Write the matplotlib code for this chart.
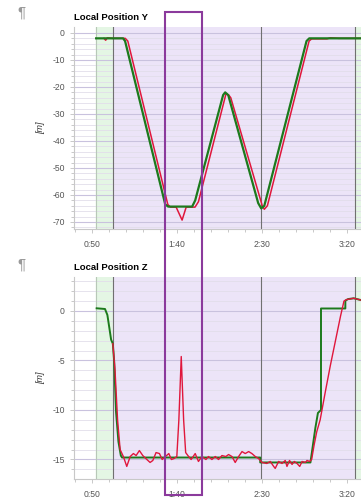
import numpy as np
import matplotlib
matplotlib.use('Agg')
import matplotlib.pyplot as plt
from matplotlib.patches import Rectangle

# time in seconds, values in metres
y_est_t = [52.4, 68.2, 69.4, 93.0, 94.7, 108.8, 110.6, 127.0, 128.2, 130.0,
           147.6, 149.4, 151.2, 176.0, 177.6, 208.0]
y_est_v = [-2.0, -2.0, -3.0, -63.5, -64.3, -64.3, -62.0, -23.0, -22.0, -23.0,
           -63.0, -65.0, -64.0, -3.0, -2.0, -2.0]

y_sp_t = [57.0, 58.0, 59.0, 62.0, 69.5, 71.0, 94.5, 96.0, 99.4, 102.9, 105.3,
          110.5, 112.5, 128.7, 130.3, 131.5, 150.0, 151.2, 153.0, 177.5, 179.0,
          188.0, 190.0, 195.0, 208.0]
y_sp_v = [-2.0, -2.7, -1.8, -2.0, -2.0, -3.0, -63.5, -64.5, -64.5, -69.3, -64.5,
          -64.5, -62.5, -22.5, -23.0, -24.0, -64.0, -65.3, -64.0, -3.0, -2.2,
          -2.2, -1.8, -2.0, -2.0]

z_est_t = [52.7, 57.6, 59.0, 60.2, 61.2, 62.2, 63.0, 64.1, 65.5, 66.9, 67.6,
           148.8, 148.8, 178.3, 181.2, 182.7, 184.5, 184.5, 198.8, 198.8, 200.4,
           203.7, 208.0]
z_est_v = [0.27, 0.2, -0.4, -1.75, -2.9, -3.3, -5.1, -10.2, -13.2, -14.6, -14.8,
           -14.8, -15.3, -15.3, -11.8, -10.3, -10.0, 0.25, 0.25, 1.04, 1.2,
           1.28, 1.1]

z_sp_t = [62.2, 63.5, 65.0, 66.5, 68.4, 70.4, 72.4, 74.3, 75.9, 77.8, 79.8,
          82.2, 84.1, 85.7, 87.6, 89.6, 91.2, 93.1, 95.1, 96.6, 98.2, 99.8,
          101.0, 102.4, 103.8, 105.0, 106.3, 108.2, 110.6, 112.5, 114.5, 116.9,
          118.4, 120.4, 122.4, 124.3, 126.3, 128.6, 130.2, 132.2, 134.1, 136.1,
          138.1, 140.0, 142.0, 143.9, 145.9, 147.8, 149.8, 152.7, 154.7, 156.7,
          157.6, 159.6, 161.6, 163.5, 164.5, 166.0, 167.5, 168.8, 170.4, 172.0,
          173.4, 175.3, 176.3, 177.8, 179.0, 180.5, 182.0, 184.0, 187.0, 190.0,
          193.0, 196.0, 198.0, 199.5, 203.7, 208.0]
z_sp_v = [-3.3, -6.0, -11.0, -14.0, -14.7, -15.7, -14.7, -14.4, -14.6, -14.1,
          -14.6, -15.0, -15.3, -15.1, -14.3, -14.4, -15.0, -14.7, -14.4, -15.0,
          -14.9, -14.7, -11.0, -4.6, -11.0, -14.3, -14.6, -15.0, -14.4, -15.2,
          -14.7, -15.0, -14.7, -15.0, -14.7, -15.0, -14.6, -14.7, -14.5, -14.7,
          -15.3, -14.7, -14.2, -14.4, -14.2, -14.4, -14.7, -14.9, -15.3, -15.4,
          -15.2, -15.7, -15.9, -15.2, -15.4, -15.1, -15.7, -15.1, -15.5, -15.2,
          -15.4, -15.7, -15.2, -15.3, -15.1, -15.2, -15.0, -13.5, -12.2, -11.0,
          -8.2, -5.5, -3.0, -0.5, 1.0, 1.15, 1.28, 1.1]

xticks = [50, 100, 150, 200]
xticklabels = ['0:50', '1:40', '2:30', '3:20']
event_lines = [62.4, 149.0, 204.3]

plt.rcParams['font.family'] = ['Liberation Sans', 'DejaVu Sans']

fig = plt.figure(figsize=(3.61, 5.0), dpi=100)
ax1 = fig.add_axes([0.205, 0.542, 0.795, 0.404])
ax2 = fig.add_axes([0.205, 0.042, 0.795, 0.404])

def style(ax, title, ylim, major, minor):
    ax.set_xlim(39.4, 208)
    ax.set_ylim(*ylim)
    # flight mode shading
    ax.axvspan(52.4, 62.4, color='#e4f6e4', zorder=0)
    ax.axvspan(62.4, 204.3, color='#ece4f8', zorder=0)
    ax.axvspan(204.3, 208, color='#e4f6e4', zorder=0)
    ax.axvline(52.4, color='#b8c8b8', lw=0.8, zorder=1)
    for t in event_lines:
        ax.axvline(t, color='#707070', lw=0.8, zorder=1)
    ax.set_yticks(major)
    ax.set_yticks(minor, minor=True)
    ax.set_xticks(xticks)
    ax.set_xticklabels(xticklabels)
    ax.set_xticks(np.arange(40, 210, 10), minor=True)
    ax.grid(True, axis='y', which='major', color='#c9c2de', lw=0.8, zorder=1)
    ax.grid(True, axis='y', which='minor', color='#e2deea', lw=0.6, zorder=1)
    for s in ['top', 'right']:
        ax.spines[s].set_visible(False)
    for s in ['left', 'bottom']:
        ax.spines[s].set_color('#c8c8c8')
    ax.tick_params(which='both', colors='#c0c0c0', labelcolor='#555555',
                   labelsize=6.2, length=3, width=0.6)
    ax.tick_params(which='minor', length=2)
    ax.tick_params(axis='x', pad=5)
    ax.set_ylabel('[m]', fontsize=6.5, style='italic', color='#333333', labelpad=5)
    ax.set_title(title, loc='left', fontsize=6.8, fontweight='bold', pad=5, x=0.0)
    ax.set_axisbelow(True)

style(ax1, 'Local Position Y', (-72.6, 2.2),
      np.arange(0, -71, -10), np.arange(0, -73, -2))
ax1.set_yticklabels([str(int(v)) for v in np.arange(0, -71, -10)])
style(ax2, 'Local Position Z', (-16.97, 3.43),
      [0, -5, -10, -15], np.arange(3, -17, -1))
ax2.set_yticklabels(['0', '-5', '-10', '-15'])

ax1.plot(y_sp_t, y_sp_v, color='#e0173c', lw=1.1, zorder=3)
ax1.plot(y_est_t, y_est_v, color='#1c7a1c', lw=1.6, zorder=4)
ax2.plot(z_est_t, z_est_v, color='#1c7a1c', lw=1.4, zorder=3)
ax2.plot(z_sp_t, z_sp_v, color='#e0173c', lw=1.0, zorder=4)

for yy in [13 / 500, 265 / 500]:
    fig.text(17 / 361, 1 - yy, '\u00b6', fontsize=11, color='#999999',
             ha='left', va='center')

fig.patches.append(Rectangle((165 / 361, 1 - 495 / 500), 37 / 361, 483 / 500,
                             transform=fig.transFigure, fill=False,
                             edgecolor='#8b3a9c', lw=1.5, zorder=10))

fig.savefig('out.png', dpi=100)
